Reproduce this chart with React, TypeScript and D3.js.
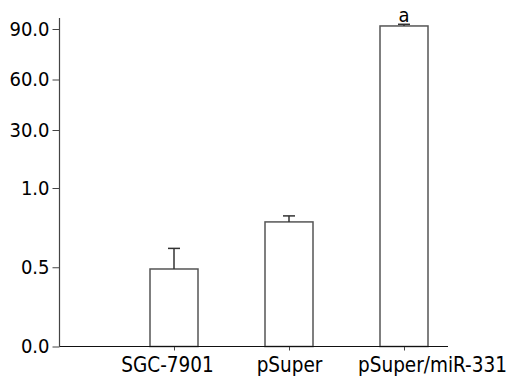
import * as React from 'react'
import { useEffect, useRef } from 'react'
import * as d3 from 'd3'

const categories = ['SGC-7901', 'pSuper', 'pSuper/miR-331']
const values = [0.489, 0.786, 91.8]
const errors = [0.13, 0.038, 1.0]
const marks = ['', '', 'a']
const yTicks = [0, 0.5, 1, 30, 60, 90]

const width = 509
const height = 376
const font = '"DejaVu Sans Condensed", "DejaVu Sans", sans-serif'

export default function App() {
  const svgRef = useRef<SVGSVGElement>(null)

  useEffect(() => {
    if (!svgRef.current) return
    const svg = d3.select(svgRef.current)
    svg.selectAll('*').remove()

    // broken axis: lower part 0-1, upper part 30-90
    const y = d3.scaleLinear()
      .domain([0, 1, 30, 90])
      .range([346.5, 188, 130, 29])

    const x = d3.scalePoint<string>()
      .domain(categories)
      .range([174, 404])

    const barW = 48
    const axisX = 59.5
    const axisTop = 18
    const axisRight = 448
    // labels in the original are not centred on their ticks
    const labelShift = [-7, 0, 28]

    // bars
    categories.forEach((c, i) => {
      const cx = x(c)!
      svg.append('rect')
        .attr('x', cx - barW / 2)
        .attr('y', y(values[i]))
        .attr('width', barW)
        .attr('height', y(0) - y(values[i]))
        .attr('fill', '#fff')
        .attr('stroke', '#555')
        .attr('stroke-width', 1.5)

      const top = y(values[i] + errors[i])
      svg.append('line')
        .attr('x1', cx).attr('x2', cx)
        .attr('y1', y(values[i])).attr('y2', top)
        .attr('stroke', '#333').attr('stroke-width', 1.5)
      svg.append('line')
        .attr('x1', cx - 6).attr('x2', cx + 6)
        .attr('y1', top).attr('y2', top)
        .attr('stroke', '#333').attr('stroke-width', 1.5)

      if (marks[i]) {
        svg.append('text')
          .attr('x', cx)
          .attr('y', top - 2.5)
          .attr('text-anchor', 'middle')
          .style('font-family', font)
          .style('font-size', '20px')
          .attr('fill', '#000')
          .text(marks[i])
      }
    })

    // y axis
    const yAxis = d3.axisLeft(y)
      .tickValues(yTicks)
      .tickFormat(d3.format('.1f'))
      .tickSize(7)
      .tickPadding(3)

    const gy = svg.append('g')
      .attr('transform', `translate(${axisX},0)`)
      .call(yAxis as any)
    gy.select('.domain').remove()
    gy.selectAll('line').attr('stroke', '#444')
    gy.selectAll('text')
      .style('font-family', font)
      .style('font-size', '20px')
      .attr('fill', '#000')

    svg.append('line')
      .attr('x1', axisX).attr('x2', axisX)
      .attr('y1', axisTop).attr('y2', y(0))
      .attr('stroke', '#444').attr('stroke-width', 1.2)

    // x axis
    const xAxis = d3.axisBottom(x)
      .tickSize(4)
      .tickPadding(7)
    const gx = svg.append('g')
      .attr('transform', `translate(0,${y(0)})`)
      .call(xAxis as any)
    gx.select('.domain').remove()
    gx.selectAll('line').attr('stroke', '#444')
    gx.selectAll('text')
      .attr('dx', (_d: any, i: number) => labelShift[i])
      .style('font-family', font)
      .style('font-size', '20.5px')
      .attr('fill', '#000')

    svg.append('line')
      .attr('x1', axisX).attr('x2', axisRight)
      .attr('y1', y(0)).attr('y2', y(0))
      .attr('stroke', '#111').attr('stroke-width', 1.2)
  }, [])

  return (
    <svg
      ref={svgRef}
      width={width}
      height={height}
      style={{ position: 'absolute', left: 0, top: 0, background: '#fff' }}
    />
  )
}
